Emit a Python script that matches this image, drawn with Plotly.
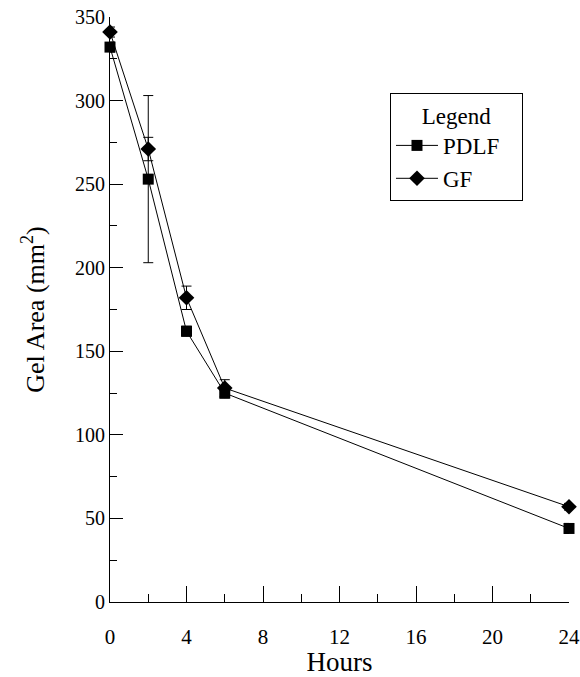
import plotly.graph_objects as go

hours = [0, 2, 4, 6, 24]
pdlf = [332, 253, 162, 125, 44]
pdlf_err = [3, 50, 3, 3, 3]
gf = [341, 271, 182, 128, 57]
gf_err = [3, 7, 7, 5, 2]

FONT = "Liberation Serif"
NB = "\u00a0"

fig = go.Figure()
fig.add_trace(go.Scatter(
    x=hours, y=pdlf, name="PDLF" + NB * 3, mode="lines+markers",
    line=dict(color="black", width=1),
    marker=dict(symbol="square", size=11, color="black"),
    error_y=dict(type="data", array=pdlf_err, color="black", thickness=1, width=5),
    cliponaxis=False,
))
fig.add_trace(go.Scatter(
    x=hours, y=gf, name="GF", mode="lines+markers",
    line=dict(color="black", width=1),
    marker=dict(symbol="diamond", size=12, color="black"),
    error_y=dict(type="data", array=gf_err, color="black", thickness=1, width=5),
    cliponaxis=False,
))

fig.update_layout(
    width=580, height=677,
    margin=dict(l=110, r=11, t=17, b=75, autoexpand=False),
    paper_bgcolor="white", plot_bgcolor="white",
    font=dict(family=FONT, color="black", size=19),
    showlegend=True,
    legend=dict(
        x=0.61, y=0.87, xanchor="left", yanchor="top",
        bordercolor="black", borderwidth=1, bgcolor="white",
        font=dict(family=FONT, size=23),
        itemwidth=42,
        title=dict(text="Legend", side="top center", font=dict(family=FONT, size=23)),
    ),
    xaxis=dict(
        range=[0, 24], tickmode="linear", tick0=0, dtick=4,
        ticks="inside", ticklen=16, tickwidth=1, tickcolor="black",
        minor=dict(dtick=2, ticks="inside", ticklen=8, tickwidth=1, tickcolor="black"),
        showline=True, linecolor="black", linewidth=1,
        showgrid=False, zeroline=False,
        tickfont=dict(family=FONT, size=21),
        ticklabelstandoff=16,
        title=dict(text="Hours", font=dict(family=FONT, size=27), standoff=12),
        automargin=False,
    ),
    yaxis=dict(
        range=[0, 350], tickmode="linear", tick0=0, dtick=50,
        ticks="inside", ticklen=13, tickwidth=1, tickcolor="black",
        minor=dict(dtick=25, ticks="inside", ticklen=7, tickwidth=1, tickcolor="black"),
        showline=True, linecolor="black", linewidth=1,
        showgrid=False, zeroline=False,
        tickfont=dict(family=FONT, size=20),
        title=dict(text="Gel Area (mm<sup>2</sup>)", font=dict(family=FONT, size=26), standoff=22),
        automargin=False,
    ),
)

fig.write_html("out.html", config={"displayModeBar": False},
               post_script="document.body.style.margin='0';")
